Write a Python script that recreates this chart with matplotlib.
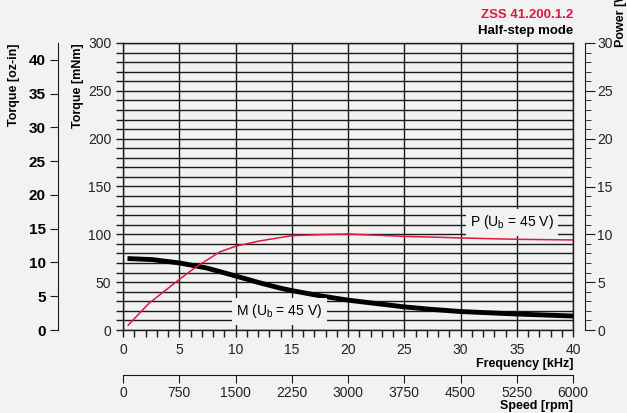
#!/usr/bin/env python3
"""Torque / power curve of ZSS 41.200.1.2 in half-step mode."""
import matplotlib
matplotlib.use('Agg')
import matplotlib.pyplot as plt
from matplotlib.ticker import MultipleLocator

BG = '#f2f2f2'
RED = '#e0173f'
INK = '#1a1a1a'
plt.rcParams['font.family'] = ['Liberation Sans', 'DejaVu Sans']
plt.rcParams['mathtext.fontset'] = 'custom'
plt.rcParams['mathtext.rm'] = 'Liberation Sans'

# torque M [mNm] vs frequency [kHz]
m_freq = [0.4, 2.6, 5, 7.4, 10, 12.1, 13.9, 15, 17.5, 20, 24.9, 27.3, 30, 35, 40]
m_torque = [74.7, 73.6, 70.1, 64.9, 56.5, 49.5, 44.0, 41.2, 35.8, 31.2, 24.3, 21.7, 19.3, 16.7, 14.6]

# power P [W] vs frequency [kHz]
p_freq = [0.47, 2.3, 5, 6.5, 8.6, 10, 12.1, 13.9, 15, 17.5, 20, 24.9, 27.3, 30, 35, 40]
p_power = [0.52, 2.78, 5.28, 6.6, 8.16, 8.75, 9.3, 9.65, 9.86, 9.97, 10.03, 9.79, 9.72, 9.62, 9.48, 9.41]

OZIN = 7.0616  # mNm per oz-in
PT = 0.72      # points per pixel at dpi 100

fig = plt.figure(figsize=(6.27, 4.13), dpi=100, facecolor=BG)
ax = fig.add_axes([123 / 627, 1 - 330 / 413, 450 / 627, 287 / 413])
ax.set_facecolor(BG)
ax.set_xlim(0, 40)
ax.set_ylim(0, 300)
ax.xaxis.set_major_locator(MultipleLocator(5))
ax.xaxis.set_minor_locator(MultipleLocator(1))
ax.yaxis.set_major_locator(MultipleLocator(50))
ax.yaxis.set_minor_locator(MultipleLocator(10))
ax.grid(which='major', color=INK, lw=1.0)
ax.grid(which='minor', axis='y', color=INK, lw=1.0)
ax.tick_params(which='both', direction='out', length=5, width=1, color=INK,
               labelsize=10, labelcolor='#222222')
ax.tick_params(axis='x', pad=4)
for s in ax.spines.values():
    s.set_color(INK)
    s.set_linewidth(1.0)
ax.set_xlabel('Frequency [kHz]', loc='right', fontsize=9, fontweight='bold', labelpad=1)
ax.set_ylabel('Torque [mNm]', loc='top', fontsize=9, fontweight='bold', labelpad=3)

ax.plot(m_freq, m_torque, color='black', lw=3.5, solid_capstyle='butt', zorder=4)
ax.text(13.9, 19.5, 'M (U$_\\mathregular{b}$ = 45 V)', ha='center', va='center', fontsize=10,
        zorder=5, bbox=dict(facecolor=BG, edgecolor='none', pad=3))
ax.text(34.6, 112.5, 'P (U$_\\mathregular{b}$ = 45 V)', ha='center', va='center', fontsize=10,
        zorder=5, bbox=dict(facecolor=BG, edgecolor='none', pad=3))

# power axis on the right
axp = ax.twinx()
axp.set_ylim(0, 30)
axp.plot(p_freq, p_power, color=RED, lw=1.1, zorder=3)
for k in ['top', 'bottom', 'left']:
    axp.spines[k].set_visible(False)
axp.spines['right'].set_position(('outward', 12 * PT))
axp.spines['right'].set_color(INK)
axp.yaxis.set_major_locator(MultipleLocator(5))
axp.yaxis.set_minor_locator(MultipleLocator(1))
axp.tick_params(which='major', direction='out', length=7, color=INK, labelsize=10,
                labelcolor='#222222', pad=2)
axp.tick_params(which='minor', direction='out', length=4, color=INK)
fig.text(621 / 627, 1 - 16 / 413, 'Power [W]', rotation=90, ha='center', va='center',
         fontsize=9, fontweight='bold')

# oz-in axis on the left
axo = ax.twinx()
axo.set_ylim(0, 300 / OZIN)
for k in ['top', 'bottom', 'right']:
    axo.spines[k].set_visible(False)
axo.spines['left'].set_visible(True)
axo.spines['left'].set_position(('outward', 65 * PT))
axo.spines['left'].set_color(INK)
axo.yaxis.set_ticks_position('left')
axo.yaxis.set_label_position('left')
axo.yaxis.set_major_locator(MultipleLocator(5))
axo.tick_params(direction='out', length=6, color=INK, labelsize=11, pad=3)
for t in axo.get_yticklabels():
    t.set_fontweight('bold')
axo.set_ylabel('Torque [oz-in]', loc='top', fontsize=9, fontweight='bold', labelpad=6)

# speed axis below
axs = ax.twiny()
axs.set_xlim(0, 6000)
for k in ['top', 'left', 'right']:
    axs.spines[k].set_visible(False)
axs.spines['bottom'].set_visible(True)
axs.spines['bottom'].set_position(('outward', 45 * PT))
axs.spines['bottom'].set_color(INK)
axs.xaxis.set_ticks_position('bottom')
axs.xaxis.set_label_position('bottom')
axs.xaxis.set_major_locator(MultipleLocator(750))
axs.tick_params(direction='out', length=6, color=INK, labelsize=10, labelcolor='#222222', pad=2)
axs.set_xlabel('Speed [rpm]', loc='right', fontsize=9, fontweight='bold', labelpad=0)

fig.text(573 / 627, 1 - 15 / 413, 'ZSS 41.200.1.2', ha='right', va='center',
         fontsize=9.5, fontweight='bold', color=RED)
fig.text(573 / 627, 1 - 31 / 413, 'Half-step mode', ha='right', va='center',
         fontsize=9.5, fontweight='bold', color='black')

fig.savefig('out.png', dpi=100, facecolor=BG)
